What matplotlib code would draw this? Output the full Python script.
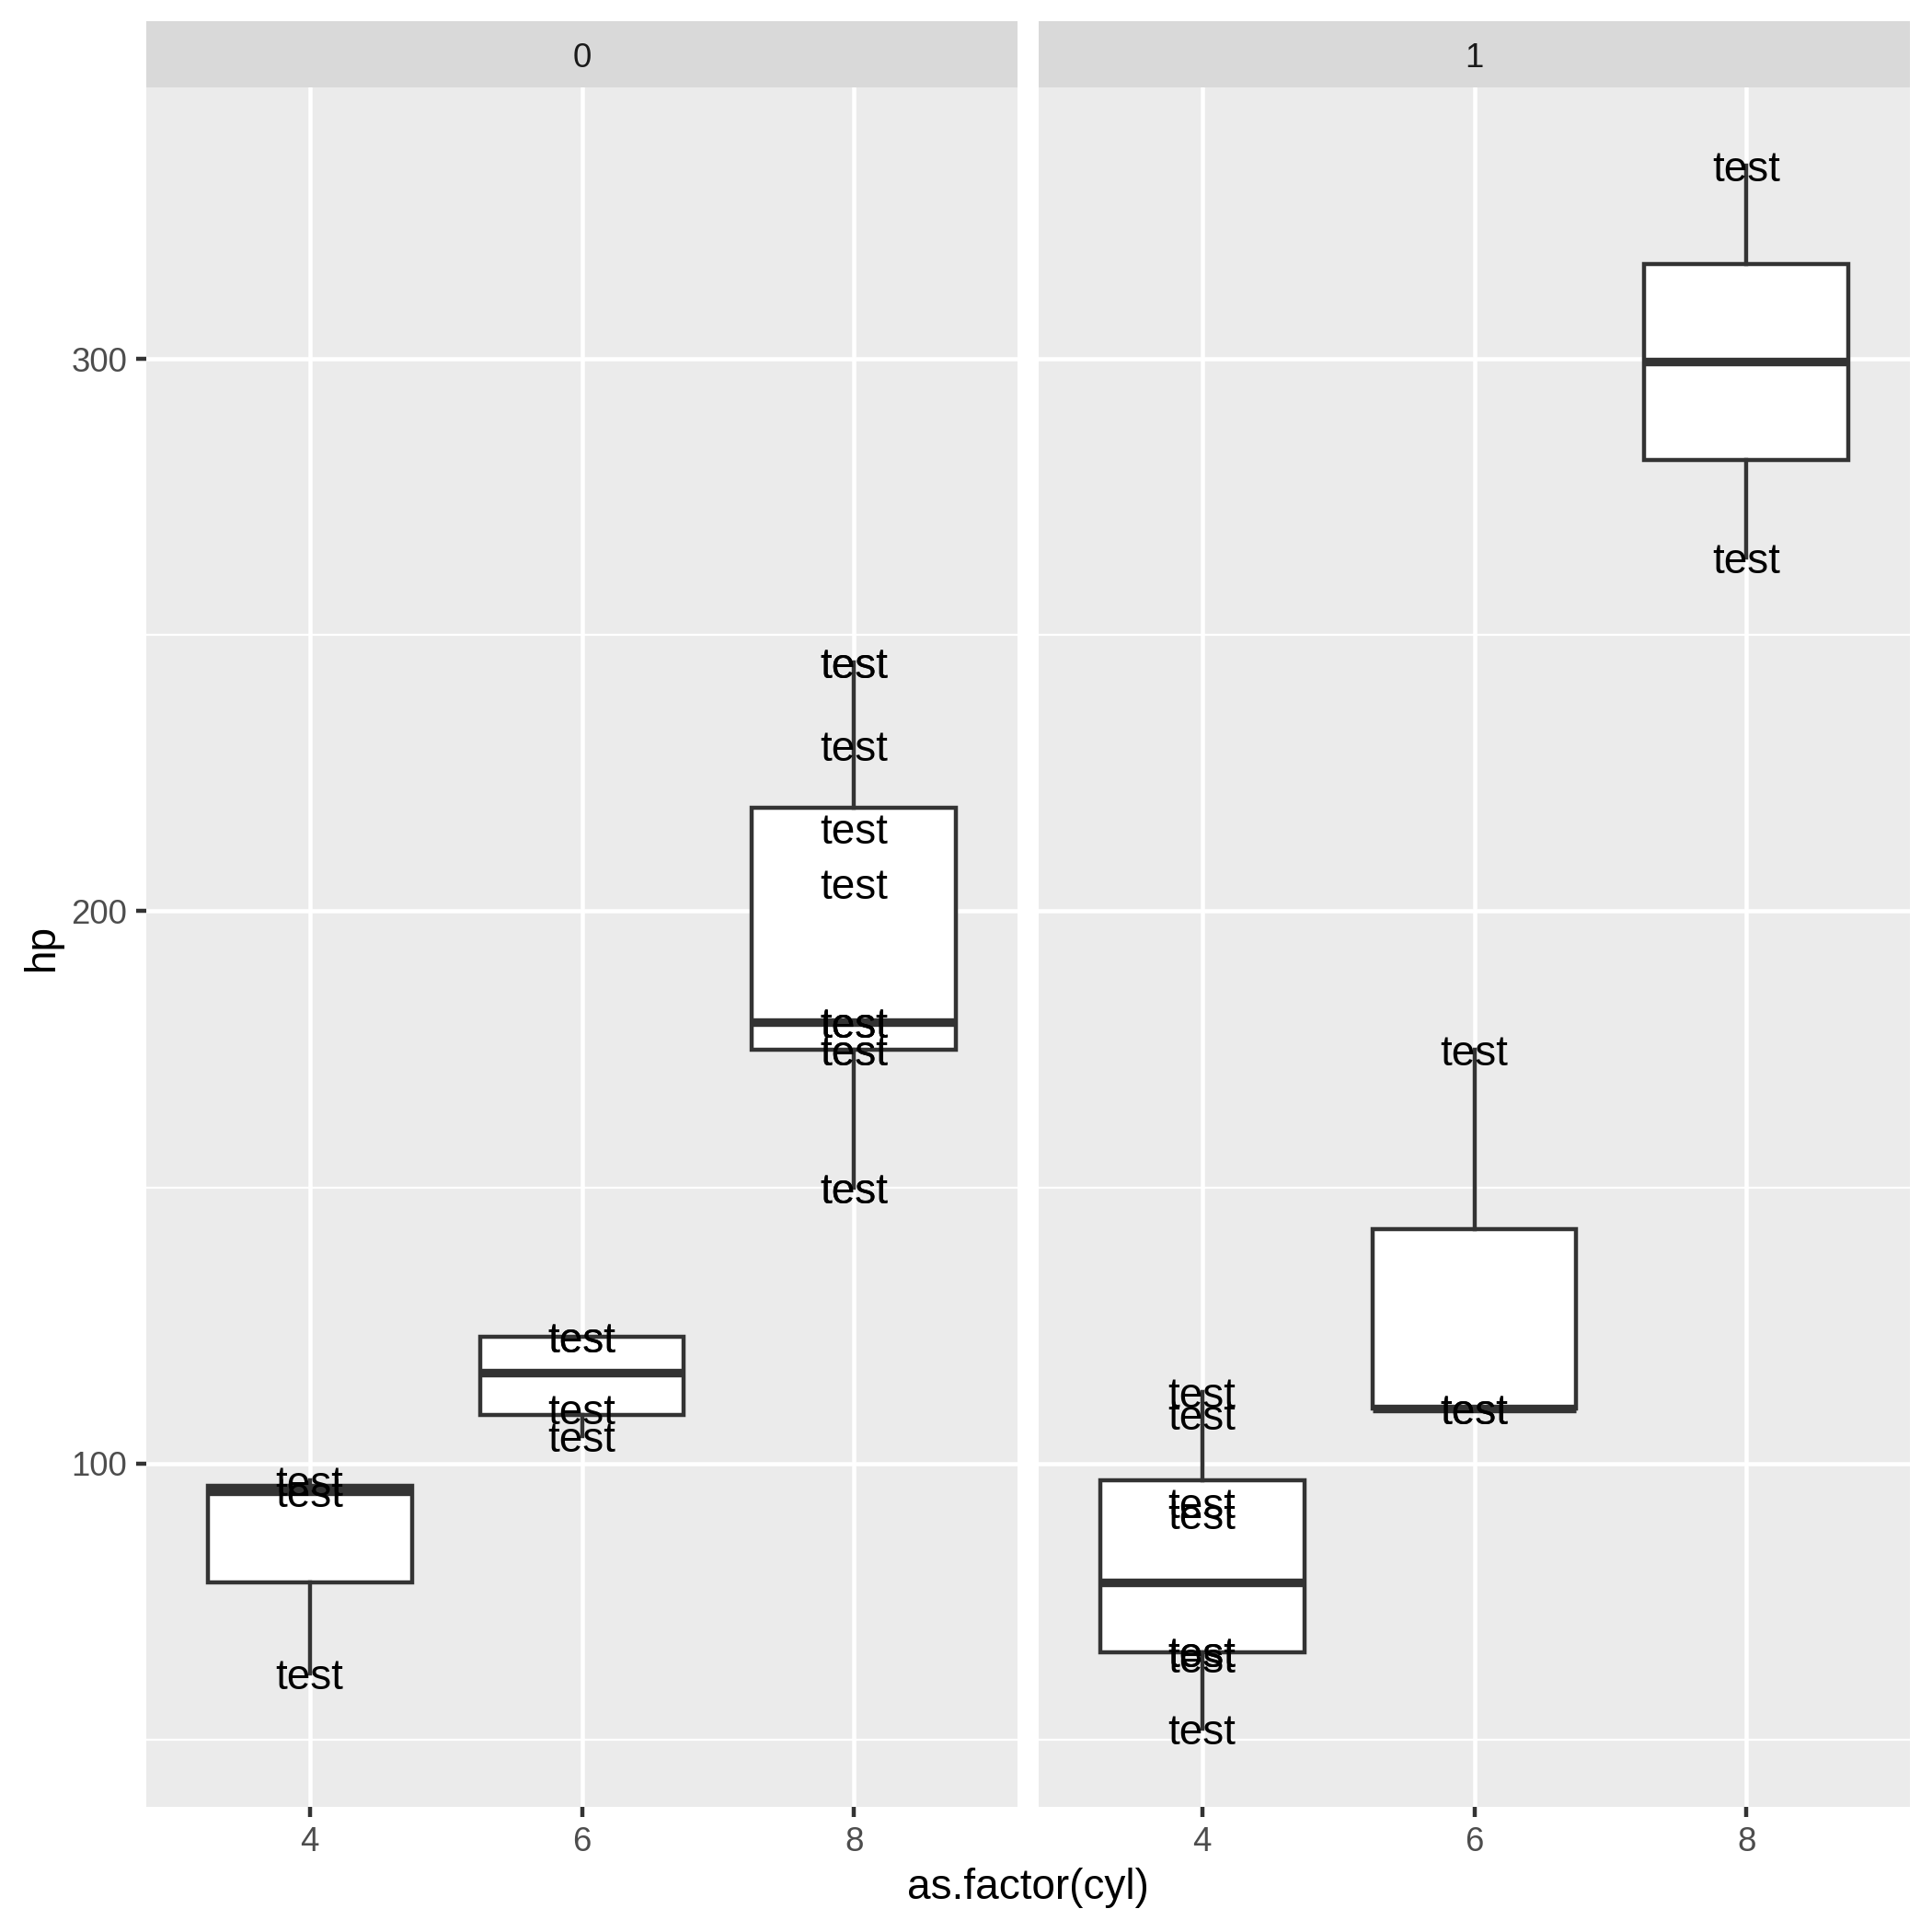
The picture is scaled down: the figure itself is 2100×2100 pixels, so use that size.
import matplotlib.pyplot as plt
from matplotlib.ticker import FixedLocator

plt.rcParams["font.family"] = ["Liberation Sans", "DejaVu Sans"]

cyl_levels = ["4", "6", "8"]
facets = ["0", "1"]

# hp by cylinder, automatic (am = 0)
hp_am0_cyl4 = [62, 95, 97]
hp_am0_cyl6 = [110, 105, 123, 123]
hp_am0_cyl8 = [175, 245, 180, 180, 180, 205, 215, 230, 150, 150, 245, 175]

# hp by cylinder, manual (am = 1)
hp_am1_cyl4 = [93, 66, 52, 65, 66, 91, 113, 109]
hp_am1_cyl6 = [110, 110, 175]
hp_am1_cyl8 = [264, 335]

panel_data = {
    "0": [hp_am0_cyl4, hp_am0_cyl6, hp_am0_cyl8],
    "1": [hp_am1_cyl4, hp_am1_cyl6, hp_am1_cyl8],
}

label_text = "test"
y_major = [100, 200, 300]
y_minor = [50, 150, 250]

all_hp = [v for groups in panel_data.values() for g in groups for v in g]
lo, hi = min(all_hp), max(all_hp)
pad = (hi - lo) * 0.05
ylim = (lo - pad, hi + pad)

W = H = 2100
fig = plt.figure(figsize=(7, 7), dpi=300)

panel_bottom = 1 - 1964 / H
panel_top = 1 - 95 / H
strip_top = 1 - 23 / H
lefts = [159 / W, 1129 / W]
width = (1106 - 159) / W

dark = "#333333"
lw = 1.07

for i, f in enumerate(facets):
    ax = fig.add_axes([lefts[i], panel_bottom, width, panel_top - panel_bottom])
    ax.set_facecolor("#EBEBEB")
    for s in ax.spines.values():
        s.set_visible(False)
    ax.set_xlim(0.4, 3.6)
    ax.set_ylim(*ylim)

    for y in y_minor:
        ax.axhline(y, color="white", lw=0.55, zorder=0)
    for y in y_major:
        ax.axhline(y, color="white", lw=1.1, zorder=0)
    for x in range(1, 4):
        ax.axvline(x, color="white", lw=1.1, zorder=0)

    groups = panel_data[f]
    ax.boxplot(
        groups, positions=[1, 2, 3], widths=0.75, whis=1.5,
        patch_artist=True, showcaps=False, manage_ticks=False,
        boxprops=dict(facecolor="white", edgecolor=dark, linewidth=lw),
        whiskerprops=dict(color=dark, linewidth=lw),
        medianprops=dict(color=dark, linewidth=lw * 2.1, solid_capstyle="butt"),
        flierprops=dict(marker="o", markerfacecolor=dark, markeredgecolor=dark, markersize=4),
        zorder=2,
    )

    for x, g in enumerate(groups, start=1):
        for v in g:
            ax.text(x, v, label_text, ha="center", va="center_baseline",
                    fontsize=11, color="black", zorder=3)

    ax.set_xticks([1, 2, 3])
    ax.set_xticklabels(cyl_levels)
    ax.tick_params(axis="x", length=2.75, width=lw, color=dark,
                   labelsize=8.8, labelcolor="#4D4D4D", pad=2.2)
    ax.yaxis.set_major_locator(FixedLocator(y_major))
    if i == 0:
        ax.set_yticklabels([str(v) for v in y_major])
        ax.tick_params(axis="y", length=2.75, width=lw, color=dark,
                       labelsize=8.8, labelcolor="#4D4D4D", pad=2.2)
    else:
        ax.tick_params(axis="y", left=False, labelleft=False)

    # facet strip
    sax = fig.add_axes([lefts[i], panel_top, width, strip_top - panel_top])
    sax.set_facecolor("#D9D9D9")
    sax.set_xticks([])
    sax.set_yticks([])
    for s in sax.spines.values():
        s.set_visible(False)
    sax.text(0.5, 0.44, f, ha="center", va="center", fontsize=8.8,
             color="#1A1A1A", transform=sax.transAxes)

fig.text((159 + 2076) / 2 / W, 1 - 2052 / H, "as.factor(cyl)", ha="center",
         va="center", fontsize=11)
fig.text(46 / W, (panel_bottom + panel_top) / 2, "hp", ha="center", va="center",
         rotation=90, fontsize=11)

fig.savefig("out.png", dpi=300)
